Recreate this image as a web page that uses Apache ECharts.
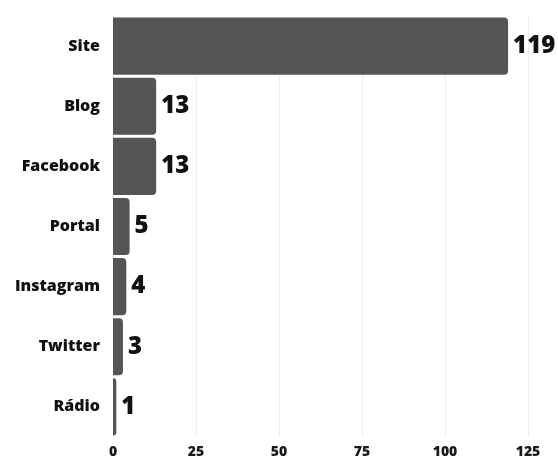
<!DOCTYPE html>
<html>
<head>
<meta charset="utf-8">
<script src="https://cdn.jsdelivr.net/npm/echarts@6/dist/echarts.min.js"></script>
<style>html,body{margin:0;padding:0;background:#fff;}#c{width:558px;height:462px;}</style>
</head>
<body>
<div id="c"></div>
<script>
const categories = ['Site', 'Blog', 'Facebook', 'Portal', 'Instagram', 'Twitter', 'Rádio'];
const values = [119, 13, 13, 5, 4, 3, 1];
const xTicks = [0, 25, 50, 75, 100, 125];

const chart = echarts.init(document.getElementById('c'), null, {renderer: 'canvas'});
chart.setOption({
  backgroundColor: '#ffffff',
  animation: false,
  grid: {left: 113, right: 30, top: 16, bottom: 25, containLabel: false},
  xAxis: {
    type: 'value',
    min: xTicks[0],
    max: xTicks[xTicks.length - 1],
    interval: 25,
    axisLine: {show: false},
    axisTick: {show: false},
    splitLine: {show: true, lineStyle: {color: '#eeeeee', width: 1}},
    axisLabel: {color: '#1a1a1a', fontFamily: 'Open Sans', fontWeight: 800, fontSize: 14, margin: 8}
  },
  yAxis: {
    type: 'category',
    data: categories,
    inverse: true,
    axisLine: {show: false},
    axisTick: {show: false},
    axisLabel: {color: '#111', fontFamily: 'Open Sans', fontWeight: 800, fontSize: 16, margin: 13}
  },
  series: [{
    type: 'bar',
    data: values,
    barCategoryGap: '5%',
    itemStyle: {color: '#555555', borderRadius: [0, 4, 4, 0]},
    label: {
      show: true,
      position: 'right',
      distance: 5,
      color: '#111',
      fontFamily: 'Open Sans',
      fontWeight: 800,
      fontSize: 24
    }
  }]
});
</script>
</body>
</html>
